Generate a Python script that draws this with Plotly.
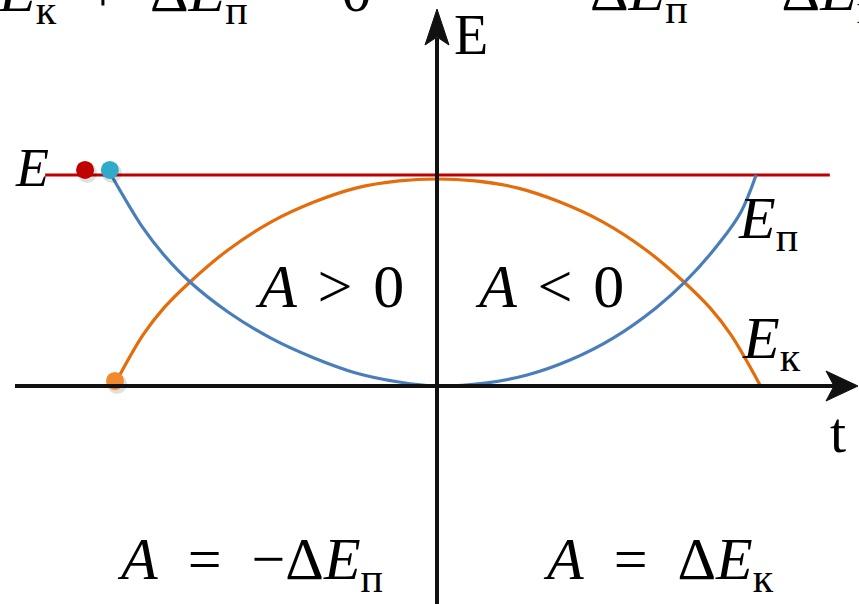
import plotly.graph_objects as go

# ---- data (t in units of half-period, E in units of total energy) ----
t_kin = [-1.000, -0.913, -0.848, -0.767, -0.649, -0.516, -0.382, -0.252, -0.118, 0.000,
         0.118, 0.252, 0.382, 0.516, 0.649, 0.767, 0.848, 0.913, 1.003]
E_kin = [0.010, 0.242, 0.370, 0.493, 0.645, 0.777, 0.872, 0.938, 0.972, 0.981,
         0.972, 0.938, 0.872, 0.777, 0.645, 0.493, 0.370, 0.242, 0.005]

t_pot = [-1.012, -0.913, -0.848, -0.767, -0.649, -0.516, -0.382, -0.252, -0.118, 0.000,
         0.149, 0.280, 0.413, 0.547, 0.680, 0.770, 0.879, 0.944, 0.991]
E_pot = [1.000, 0.749, 0.621, 0.493, 0.351, 0.227, 0.133, 0.062, 0.019, 0.000,
         0.014, 0.052, 0.123, 0.227, 0.370, 0.493, 0.682, 0.825, 1.000]

t_total = [-1.217, 1.220]
E_total = [1.0, 1.0]

dot_t = [-1.093, -1.016, -1.000]
dot_E = [1.024, 1.024, 0.024]
dot_colors = ["#c00000", "#31a9c9", "#f08a2c"]

W, H = 859, 604
X0, Y0 = 437, 386          # pixel of origin
SX, SY = 322, 211          # pixels per unit

def px(x):  # pixel -> paper
    return x / W

def py(y):
    return 1 - y / H

fig = go.Figure()

# red total energy line
fig.add_trace(go.Scatter(x=t_total, y=E_total, mode="lines",
                         line=dict(color="#c00000", width=3.2), hoverinfo="skip"))
# kinetic energy
fig.add_trace(go.Scatter(x=t_kin, y=E_kin, mode="lines",
                         line=dict(color="#e46c0a", width=3.2, shape="spline", smoothing=1.0),
                         hoverinfo="skip"))
# potential energy
fig.add_trace(go.Scatter(x=t_pot, y=E_pot, mode="lines",
                         line=dict(color="#4a7ebb", width=3.2, shape="spline", smoothing=1.0),
                         hoverinfo="skip"))
# dot shadows
fig.add_trace(go.Scatter(x=[t + 2 / SX for t in dot_t], y=[e - 3 / SY for e in dot_E], mode="markers",
                         marker=dict(size=20, color="rgba(0,0,0,0.12)", line=dict(width=0)),
                         hoverinfo="skip"))
# dots
fig.add_trace(go.Scatter(x=dot_t, y=dot_E, mode="markers",
                         marker=dict(size=18, color=dot_colors, line=dict(width=0)),
                         hoverinfo="skip"))

shapes = [
    # vertical axis
    dict(type="line", xref="paper", yref="paper", x0=px(437), x1=px(437), y0=py(610), y1=py(38),
         line=dict(color="#111111", width=4)),
    # horizontal axis
    dict(type="line", xref="paper", yref="paper", x0=px(15), x1=px(836), y0=py(386), y1=py(386),
         line=dict(color="#111111", width=4)),
    # arrowheads
    dict(type="path", xref="paper", yref="paper",
         path=f"M {px(437)} {py(9)} L {px(449)} {py(45)} L {px(437)} {py(37)} L {px(425)} {py(45)} Z",
         fillcolor="#111111", line=dict(color="#111111", width=1)),
    dict(type="path", xref="paper", yref="paper",
         path=f"M {px(858)} {py(386)} L {px(826)} {py(401)} L {px(834)} {py(386)} L {px(826)} {py(371)} Z",
         fillcolor="#111111", line=dict(color="#111111", width=1)),
]

SERIF = "Liberation Serif"
sp = "\u2002"
sp2 = " \u200a"

def ann(text, x, y, size, xanchor="center", yanchor="middle"):
    return dict(text=text, xref="paper", yref="paper", x=px(x), y=py(y), showarrow=False,
                xanchor=xanchor, yanchor=yanchor,
                font=dict(family=SERIF, size=size, color="#000000"))

annotations = [
    ann(f"<i>E</i><sub>к</sub>{sp}+{sp}Δ<i>E</i><sub>п</sub>{sp}={sp}0", -4, -4, 60, xanchor="left"),
    ann(f"Δ<i>E</i><sub>п</sub>{sp}={sp}Δ<i>E</i><sub>к</sub>", 588, -6, 60, xanchor="left"),
    ann("E", 452, 35, 56, xanchor="left"),
    ann("t", 838, 432, 58),
    ann("<i>E</i>", 32, 168, 54),
    ann("<i>E</i><sub>п</sub>", 736, 222, 60, xanchor="left"),
    ann("<i>E</i><sub>к</sub>", 740, 342, 60, xanchor="left"),
    ann(f"<i>A</i>{sp2}&gt;{sp2}0", 329, 286, 62),
    ann(f"<i>A</i>{sp2}&lt;{sp2}0", 549, 286, 62),
    ann(f"<i>A</i>{sp}={sp}−Δ<i>E</i><sub>п</sub>", 115, 563, 60, xanchor="left"),
    ann(f"<i>A</i>{sp}={sp}Δ<i>E</i><sub>к</sub>", 541, 563, 60, xanchor="left"),
]

fig.update_layout(
    width=W, height=H,
    margin=dict(l=0, r=0, t=0, b=0),
    paper_bgcolor="white", plot_bgcolor="white",
    showlegend=False,
    xaxis=dict(visible=False, range=[-X0 / SX, (W - X0) / SX], fixedrange=True),
    yaxis=dict(visible=False, range=[(Y0 - H) / SY, Y0 / SY], fixedrange=True),
    shapes=shapes,
    annotations=annotations,
)

fig.write_html("out.html", config={"displayModeBar": False},
               post_script="document.body.style.margin='0px';")
